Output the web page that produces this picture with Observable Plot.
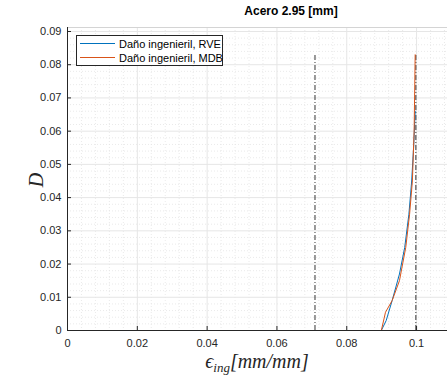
<!DOCTYPE html>
<html>
<head>
<meta charset="utf-8">
<script src="https://cdn.jsdelivr.net/npm/d3@7"></script>
<script src="https://cdn.jsdelivr.net/npm/@observablehq/plot@0.6"></script>
<style>
  html, body { margin: 0; padding: 0; background: #fff; }
  #wrap { position: relative; width: 447px; height: 377px; overflow: hidden; font-family: "Liberation Sans", Arial, sans-serif; }
  #wrap > svg { position: absolute; left: 0; top: 0; }
  .title { position: absolute; left: 291px; top: 4px; transform: translateX(-50%); font-weight: bold; font-size: 12px; color: #000; white-space: nowrap; }
  .xlabel { position: absolute; left: 257px; top: 350px; transform: translateX(-50%); font-family: "Liberation Serif", serif; font-style: italic; font-size: 20px; color: #262626; white-space: nowrap; line-height: 22px; }
  .xlabel sub { font-size: 13px; vertical-align: -4px; line-height: 0; }
  .ylabel { position: absolute; left: 36px; top: 180px; transform: translate(-50%, -50%) rotate(-90deg); font-family: "Liberation Serif", serif; font-style: italic; font-size: 20px; color: #262626; }
  .legend { position: absolute; left: 76px; top: 35px; width: 147px; height: 31px; border: 1px solid #262626; background: #fff; font-size: 11px; color: #000; box-sizing: border-box; }
  .legend .row { position: absolute; left: 3px; height: 13px; display: flex; align-items: center; white-space: nowrap; }
  .legend .row svg { flex: none; margin-right: 4px; }
</style>
</head>
<body>
<div id="wrap"></div>
<script>
// Data
const titleText = "Acero 2.95 [mm]";
const seriesNames = ["Daño ingenieril, RVE", "Daño ingenieril, MDB"];
const seriesColors = ["#0072BD", "#D95319"];
const strainRVE = [0, 0.0899, 0.0913, 0.0930, 0.0951, 0.0966, 0.0978, 0.0986, 0.0992, 0.0996];
const damageRVE = [0, 0, 0.003, 0.009, 0.017, 0.025, 0.035, 0.045, 0.056, 0.066];
const strainMDB = [0, 0.0899, 0.0911, 0.0930, 0.0951, 0.0969, 0.0980, 0.0988, 0.0993, 0.0996];
const damageMDB = [0, 0, 0.0055, 0.009, 0.015, 0.025, 0.035, 0.045, 0.060, 0.083];
const refStrains = [0.0709, 0.0998];
const refTop = 0.0833;
const xTicks = [0, 0.02, 0.04, 0.06, 0.08, 0.1];
const xTickLabels = ["0", "0.02", "0.04", "0.06", "0.08", "0.1"];
const yTicks = [0, 0.01, 0.02, 0.03, 0.04, 0.05, 0.06, 0.07, 0.08, 0.09];
const yTickLabels = ["0", "0.01", "0.02", "0.03", "0.04", "0.05", "0.06", "0.07", "0.08", "0.09"];
const xMinor = d3.range(0, 0.1089, 0.004).filter(v => Math.abs(v / 0.02 - Math.round(v / 0.02)) > 1e-6);
const yMinor = d3.range(0, 0.0912, 0.002).filter(v => Math.abs(v / 0.01 - Math.round(v / 0.01)) > 1e-6);

const rve = strainRVE.map((x, i) => ({x, y: damageRVE[i]}));
const mdb = strainMDB.map((x, i) => ({x, y: damageMDB[i]}));
const xDomain = [0, 0.10886];
const yDomain = [0, 0.0912];

const chart = Plot.plot({
  width: 447,
  height: 377,
  marginLeft: 67,
  marginRight: 0,
  marginTop: 27,
  marginBottom: 47,
  style: {fontFamily: "Liberation Sans, Arial, sans-serif", fontSize: "11px", color: "#262626", background: "transparent"},
  x: {domain: xDomain},
  y: {domain: yDomain},
  marks: [
    Plot.ruleX(xMinor, {stroke: "#e4e4e4", strokeWidth: 0.8, strokeDasharray: "1,2"}),
    Plot.ruleY(yMinor, {stroke: "#e4e4e4", strokeWidth: 0.8, strokeDasharray: "1,2"}),
    Plot.ruleX(xTicks, {stroke: "#e6e6e6", strokeWidth: 1}),
    Plot.ruleY(yTicks, {stroke: "#e6e6e6", strokeWidth: 1}),
    Plot.ruleY([yDomain[1]], {stroke: "#d4d4d4", strokeWidth: 1}),
    Plot.ruleX(refStrains, {y1: 0, y2: refTop, stroke: "#333", strokeWidth: 1, strokeDasharray: "5,2,1,2"}),
    Plot.line(rve, {x: "x", y: "y", stroke: seriesColors[0], strokeWidth: 1}),
    Plot.line(mdb, {x: "x", y: "y", stroke: seriesColors[1], strokeWidth: 1}),
    Plot.axisX({ticks: xTicks, tickFormat: (d) => xTickLabels[xTicks.indexOf(d)], tickSize: -4, tickPadding: 13, label: null, stroke: "#262626", fill: "#262626"}),
    Plot.axisY({ticks: yTicks, tickFormat: (d) => yTickLabels[yTicks.indexOf(d)], tickSize: -4, tickPadding: 10, label: null, stroke: "#262626", fill: "#262626"}),
    Plot.ruleY([0], {stroke: "#262626"}),
    Plot.ruleX([0], {stroke: "#262626"})
  ]
});

const wrap = document.getElementById("wrap");
wrap.appendChild(chart);

const t = document.createElement("div");
t.className = "title"; t.textContent = titleText; wrap.appendChild(t);

const xl = document.createElement("div");
xl.className = "xlabel";
xl.innerHTML = "\u03F5<sub>ing</sub>[mm/mm]";
wrap.appendChild(xl);

const yl = document.createElement("div");
yl.className = "ylabel"; yl.textContent = "D"; wrap.appendChild(yl);

const lg = document.createElement("div");
lg.className = "legend";
seriesNames.forEach((name, i) => {
  const r = document.createElement("div");
  r.className = "row";
  r.style.top = (1 + i * 14) + "px";
  const ns = "http://www.w3.org/2000/svg";
  const sv = document.createElementNS(ns, "svg");
  sv.setAttribute("width", "35"); sv.setAttribute("height", "3");
  const ln = document.createElementNS(ns, "line");
  ln.setAttribute("x1", "0"); ln.setAttribute("x2", "35");
  ln.setAttribute("y1", "1.5"); ln.setAttribute("y2", "1.5");
  ln.setAttribute("stroke", seriesColors[i]); ln.setAttribute("stroke-width", "1");
  sv.appendChild(ln);
  const tx = document.createElement("span");
  tx.textContent = name;
  r.appendChild(sv); r.appendChild(tx);
  lg.appendChild(r);
});
wrap.appendChild(lg);
</script>
</body>
</html>
